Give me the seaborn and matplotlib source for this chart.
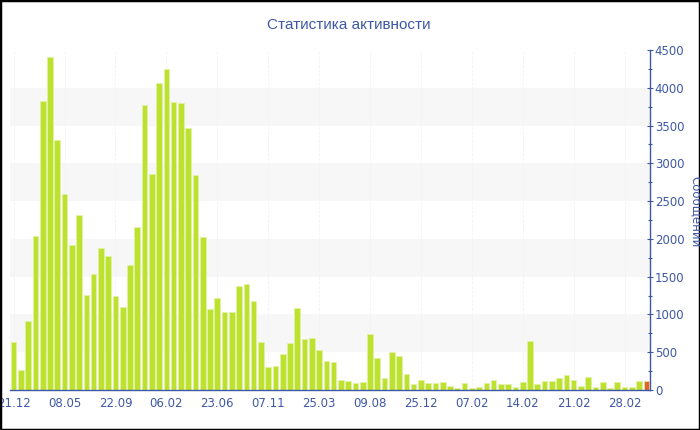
import pandas as pd
import matplotlib
matplotlib.use("Agg")
import matplotlib.pyplot as plt
from matplotlib.patches import Rectangle
from matplotlib.ticker import MultipleLocator
import seaborn as sns

# messages per bar, oldest first; last bar is the current (incomplete) period
messages = [640, 265, 910, 2040, 3830, 4410, 3310, 2595, 1920, 2310,
            1260, 1540, 1875, 1770, 1250, 1100, 1655, 2160, 3775, 2855,
            4065, 4245, 3815, 3805, 3470, 2840, 2030, 1075, 1215, 1035,
            1030, 1380, 1405, 1175, 630, 300, 315, 480, 620, 1080,
            675, 690, 530, 390, 375, 130, 115, 95, 100, 735,
            425, 165, 505, 445, 210, 85, 135, 95, 95, 100,
            55, 25, 90, 25, 40, 95, 130, 75, 80, 35,
            110, 655, 80, 125, 125, 155, 195, 130, 55, 170,
            45, 100, 25, 100, 40, 35, 115, 115]
tick_labels = ['21.12', '08.05', '22.09', '06.02', '23.06', '07.11', '25.03',
               '09.08', '25.12', '07.02', '14.02', '21.02', '28.02']
tick_step = 7
y_ticks = [0, 500, 1000, 1500, 2000, 2500, 3000, 3500, 4000, 4500]

GREEN = '#bde12f'
RED = '#e4622e'
BLUE = '#3f58a6'

df = pd.DataFrame({'bar': range(len(messages)), 'msgs': messages})
df['kind'] = ['past'] * (len(messages) - 1) + ['now']

sns.set_style('white')
plt.rcParams['font.family'] = ['DejaVu Sans']

fig = plt.figure(figsize=(7, 4.3), dpi=100)
ax = fig.add_axes([10 / 700, 40 / 430, 640 / 700, 340 / 430])

# alternating light bands
for lo in (500, 1500, 2500, 3500):
    ax.axhspan(lo, lo + 500, color='#f7f7f7', zorder=0, lw=0)

sns.barplot(data=df, x='bar', y='msgs', hue='kind',
            palette={'past': GREEN, 'now': RED}, dodge=False, saturation=1,
            width=0.78, legend=False, edgecolor='#e2f3a6', linewidth=0.5,
            ax=ax, zorder=2)

ax.set_xlim(-0.5, len(messages) - 0.5)
ax.set_ylim(0, 4500)
ticks = list(range(0, len(messages), tick_step))[:len(tick_labels)]
ax.set_xticks(ticks)
ax.set_xticklabels(tick_labels)
ax.grid(axis='x', color='#f3f3f3', ls='--', lw=0.6, zorder=1)
ax.set_axisbelow(True)

ax.yaxis.tick_right()
ax.set_yticks(y_ticks)
ax.yaxis.set_minor_locator(MultipleLocator(250))
ax.tick_params(axis='y', which='major', direction='inout', length=5, width=0.8,
               color=BLUE, labelcolor=BLUE, labelsize=8.5, pad=1)
ax.tick_params(axis='y', which='minor', direction='inout', length=3, width=0.8,
               color=BLUE)
ax.tick_params(axis='x', direction='out', length=3, width=0.8, color=BLUE,
               labelcolor=BLUE, labelsize=8.5, pad=2)
ax.set_xlabel('')
ax.set_ylabel('')

for side in ('top', 'left'):
    ax.spines[side].set_visible(False)
for side in ('right', 'bottom'):
    ax.spines[side].set_color(BLUE)
    ax.spines[side].set_linewidth(1)

fig.text(349 / 700, 1 - 25 / 430, 'Статистика активности', ha='center',
         va='center', color=BLUE, fontsize=11, family='Liberation Sans')
fig.text(696 / 700, 218 / 430, 'Сообщений', ha='center', va='center',
         rotation=270, color=BLUE, fontsize=8.5)

fig.patches.append(Rectangle((0, 0), 1, 1, transform=fig.transFigure,
                             fill=False, edgecolor='black', lw=2.5))

fig.savefig('out.png', dpi=100)
